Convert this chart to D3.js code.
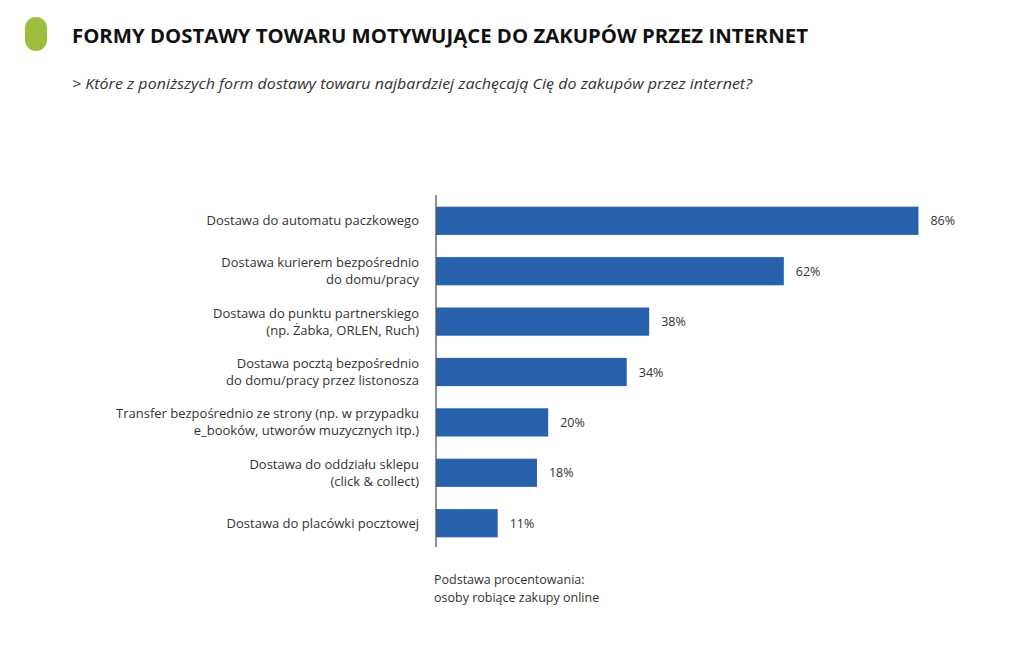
<!DOCTYPE html>
<html><head><meta charset="utf-8">
<script src="https://cdn.jsdelivr.net/npm/d3@7"></script>
<style>
body{margin:0;background:#fff;}
svg{display:block;font-family:"Open Sans",sans-serif;}
</style></head>
<body><svg id="c" width="1024" height="651"></svg>
<script>
const categories = [
  ["Dostawa do automatu paczkowego"],
  ["Dostawa kurierem bezpośrednio","do domu/pracy"],
  ["Dostawa do punktu partnerskiego","(np. Żabka, ORLEN, Ruch)"],
  ["Dostawa pocztą bezpośrednio","do domu/pracy przez listonosza"],
  ["Transfer bezpośrednio ze strony (np. w przypadku","e_booków, utworów muzycznych itp.)"],
  ["Dostawa do oddziału sklepu","(click & collect)"],
  ["Dostawa do placówki pocztowej"]
];
const values = [86, 62, 38, 34, 20, 18, 11];
const title = "FORMY DOSTAWY TOWARU MOTYWUJĄCE DO ZAKUPÓW PRZEZ INTERNET";
const subtitle = "> Które z poniższych form dostawy towaru najbardziej zachęcają Cię do zakupów przez internet?";
const footnote = ["Podstawa procentowania:", "osoby robiące zakupy online"];

const svg = d3.select("#c");
const x0 = 436;
const x = d3.scaleLinear().domain([0, 100]).range([x0, x0 + 561]);
const y = d3.scaleBand().domain(d3.range(values.length)).range([195.6, 548.4]).paddingInner(0.44).paddingOuter(0.22);

// header
svg.append("rect").attr("x",25).attr("y",17).attr("width",22).attr("height",34).attr("rx",11).attr("fill","#9dbd3c");
svg.append("text").attr("x",72).attr("y",43).attr("font-size",19.5).attr("font-weight",700).attr("fill","#111")
  .attr("textLength",736).attr("lengthAdjust","spacingAndGlyphs").text(title);
svg.append("text").attr("x",72).attr("y",89).attr("font-size",15).attr("font-style","italic").attr("fill","#333")
  .attr("textLength",680).attr("lengthAdjust","spacingAndGlyphs").text(subtitle);

// bars
svg.selectAll("rect.bar").data(values).join("rect").attr("class","bar")
  .attr("x", x(0)).attr("y", (d,i)=>y(i)).attr("width", d=>x(d)-x(0)).attr("height", y.bandwidth())
  .attr("fill","#2862ac");

// axis line
svg.append("line").attr("x1",x0).attr("x2",x0).attr("y1",195).attr("y2",547).attr("stroke","#555").attr("stroke-width",1.3);

// value labels
svg.selectAll("text.val").data(values).join("text").attr("class","val")
  .attr("x", d=>x(d)+12).attr("y", (d,i)=>y(i)+y.bandwidth()/2+4.5)
  .attr("font-size",12.5).attr("fill","#333").text(d=>d+"%");

// category labels
const g = svg.selectAll("text.cat").data(categories).join("text").attr("class","cat")
  .attr("text-anchor","end").attr("font-size",13).attr("fill","#333");
g.each(function(lines,i){
  const cy = y(i)+y.bandwidth()/2;
  const n = lines.length, lh = 17;
  d3.select(this).selectAll("tspan").data(lines).join("tspan")
    .attr("x",419).attr("y",(l,j)=>cy + (j-(n-1)/2)*lh + 4.5).text(l=>l);
});

// footnote
svg.selectAll("text.fn").data(footnote).join("text").attr("class","fn")
  .attr("x",434).attr("y",(d,i)=>584+i*18).attr("font-size",12.5).attr("fill","#333").text(d=>d);
</script></body></html>
